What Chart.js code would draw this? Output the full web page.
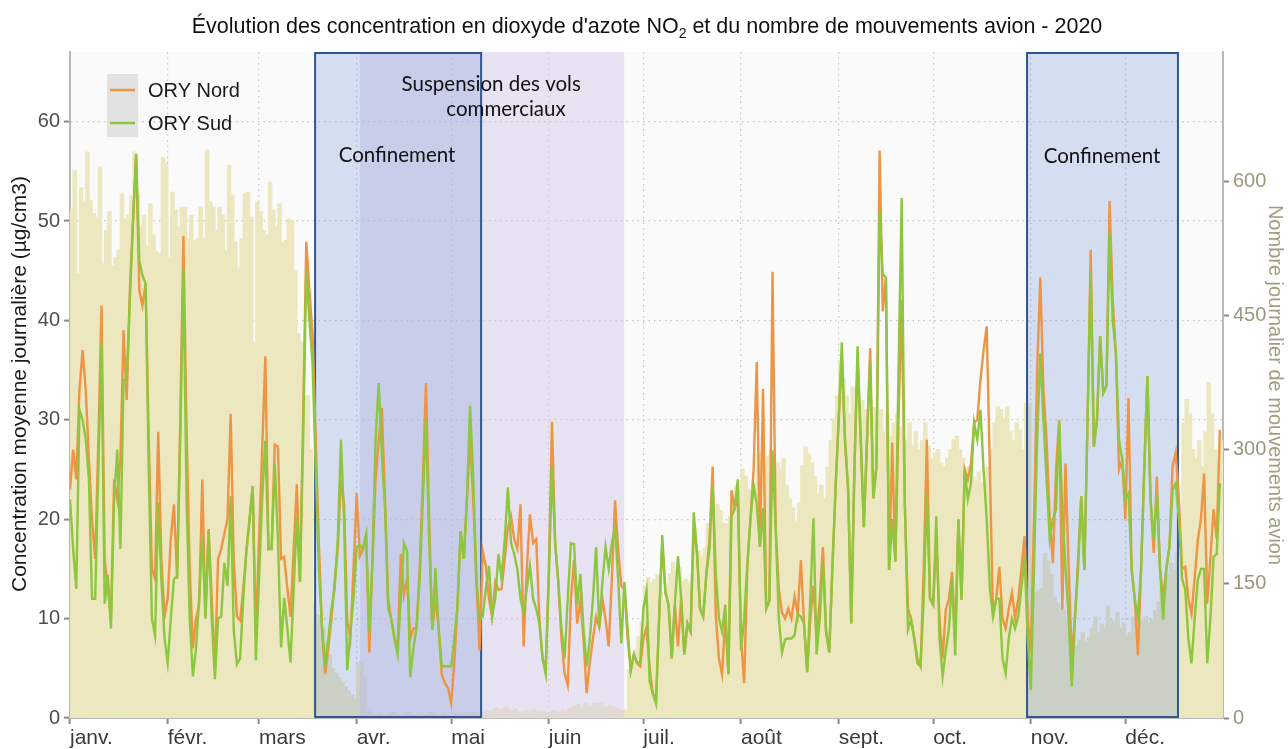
<!DOCTYPE html>
<html lang="fr">
<head>
<meta charset="UTF-8">
<title>NO2 et mouvements avion - Orly 2020</title>
<script src="https://cdn.jsdelivr.net/npm/chart.js@4"></script>
<style>
html,body{margin:0;padding:0;background:#fff;}
#wrap{width:1288px;height:749px;}
</style>
</head>
<body>
<div id="wrap"><canvas id="chart" width="1288" height="749"></canvas></div>
<script>
// axe des dates : jour de l'année 2020 (0 = 1er janvier)
const mois = ["janv.", "févr.", "mars", "avr.", "mai", "juin", "juil.", "août", "sept.", "oct.", "nov.", "déc."];
const debutMois = [0, 31, 60, 91, 121, 152, 182, 213, 244, 274, 305, 335];

// NO2 moyenne journalière (µg/cm3), station ORY Nord
const nord = [
  23, 27, 24, 33, 37, 33, 26, 20, 16, 28,
  41.5, 16, 13, 10, 24, 22, 26, 39, 32, 43,
  50, 56.7, 43, 41.5, 43.7, 28, 15, 14, 28.8, 16,
  10.2, 12, 18, 21.5, 14, 30, 48.5, 29, 15, 7,
  10, 11.4, 24, 10.2, 19, 12, 4.8, 16, 17, 18.5,
  20, 30.6, 15.6, 10.2, 9.8, 13, 16.7, 20, 23.3, 8.3,
  18, 27, 36.4, 17, 17, 27.5, 27.3, 16, 16.2, 13,
  10.2, 17, 23.5, 13.7, 30, 47.9, 43, 38.6, 28, 17.6,
  9, 4.4, 7, 10, 13.7, 17, 24, 21.5, 10, 8,
  15, 22.6, 16.3, 17, 18.4, 6.6, 15.7, 24, 28, 31.2,
  22, 12, 9.9, 8, 7.2, 16.5, 12.4, 14, 8, 9,
  9.1, 15, 24, 33.7, 20, 8.9, 12, 9.1, 4.4, 3.5,
  3, 1.5, 5.6, 11.4, 18.8, 16, 22, 28, 22, 14,
  6.8, 16.8, 15.3, 12, 10.2, 13.7, 12.9, 13, 16, 19.2,
  20.3, 18, 17, 21.5, 7.2, 15, 20.5, 17.6, 18, 9.9,
  6, 5, 15, 29.8, 17.6, 13.7, 8, 4.5, 3.3, 12,
  15.9, 9.5, 11.8, 8, 2.5, 5.6, 8, 10.2, 9.1, 12,
  9.9, 7.2, 14, 21.9, 17, 13.3, 13, 8, 4.8, 6.4,
  5.5, 5.2, 8, 9.1, 5, 2.5, 1.5, 10, 17.6, 12.6,
  11.4, 6, 11.4, 7.2, 12, 6.4, 9.5, 8.7, 19, 16.8,
  11, 10.2, 14.5, 18, 25.3, 10.2, 6, 4.4, 10, 4.4,
  22.9, 21.1, 22, 8, 3.5, 15.3, 20, 25, 35.8, 17.2,
  33.1, 11, 11.8, 44.9, 19.2, 13, 10.6, 10, 11, 10,
  12.2, 10.5, 15.9, 9.5, 4.6, 10, 13.3, 8, 12, 17.2,
  8.7, 6.6, 15, 23, 30, 36.2, 28, 23, 9.5, 25,
  36.2, 28, 19.2, 28, 37.2, 22.1, 25.3, 57.1, 40.9, 44.3,
  14.9, 27.7, 15.7, 30, 42, 21.5, 11, 9.9, 8, 6,
  5.2, 15, 28, 12, 11.4, 18, 10, 6, 10.9, 12,
  14.7, 8, 20, 11.9, 25, 24, 25.6, 29.7, 30, 34,
  37, 39.4, 25, 10.2, 12, 15.2, 10, 9, 11, 12.6,
  10, 12, 15, 18.3, 10, 6.5, 20, 35, 44.3, 33,
  28, 20, 15.6, 25, 30, 10.9, 25.6, 15.2, 6, 10,
  16, 22.3, 14.9, 30, 47.1, 27.3, 30, 38.4, 32.7, 33.4,
  52, 42, 36.7, 25, 26, 20, 32.2, 15, 11.9, 6.3,
  15, 25, 34.4, 22, 16.6, 24.3, 15, 12, 15, 17.2,
  25.3, 26.7, 22, 15, 15.2, 12, 10.5, 14, 17.9, 20,
  24.6, 11.5, 16, 21, 18, 29
];

// NO2 moyenne journalière (µg/cm3), station ORY Sud
const sud = [
  22, 17, 13, 31, 30, 28, 24, 12, 12, 25,
  37.7, 11.5, 14.4, 9, 22, 27, 17, 34, 34, 42,
  50, 56.7, 46, 44.5, 43.7, 25, 10, 8.3, 21.7, 14,
  8, 5.6, 10, 14, 14.2, 28, 45.2, 22, 10, 4.2,
  7, 12, 18.3, 10, 18.7, 10, 3.9, 10, 10.2, 15.6,
  13.3, 22.3, 8.7, 5.4, 6, 12, 17, 20, 23.3, 5.8,
  14, 22, 27.9, 17, 17.1, 25.6, 18, 7.1, 12.1, 9,
  5.6, 13, 20.2, 13.7, 28, 45.2, 40, 35.6, 25, 15,
  9, 5.2, 8, 11, 13, 18, 28, 20, 4.8, 8.7,
  12, 17.2, 17.4, 17, 18.4, 8.7, 15.7, 28, 33.7, 26.5,
  21, 11, 9.9, 8, 6.4, 12, 17.6, 16.8, 4.1, 7,
  9.1, 14, 22, 30, 18, 8.9, 15.1, 9.1, 5.2, 5.2,
  5.2, 5.2, 8, 11.4, 18.8, 16, 22, 31.4, 24, 14,
  10, 10.2, 13, 15.3, 10.2, 12, 16.5, 14, 18, 23.2,
  17.6, 16.5, 15, 12, 10.6, 13, 15.3, 12, 11, 9.5,
  6, 4.4, 14, 25.3, 17.6, 13.7, 9, 6, 12, 17.6,
  17.5, 11.4, 14.5, 9, 5.2, 7.9, 12, 17.2, 9.1, 13.7,
  17.2, 15, 17.6, 19.2, 14, 7.5, 13.7, 9, 4.8, 6.4,
  5.6, 5.6, 11, 12.8, 3.7, 2.5, 1.5, 10, 18.4, 12.6,
  11.4, 6, 11.4, 16.3, 12, 6.4, 9.5, 8.7, 20.7, 16.8,
  11, 10.2, 14.5, 17, 23.4, 14.5, 10, 8.7, 11.4, 4.4,
  20.3, 21.1, 24, 6.8, 10, 15.3, 20, 23.4, 21.5, 17.2,
  21.1, 11, 11.8, 26.9, 19.2, 10, 6.6, 7.9, 8, 8,
  8.3, 10.5, 10.2, 9.5, 4.6, 12, 20.1, 6.4, 10, 15.7,
  8.7, 6.6, 15, 23, 30, 37.8, 28, 23, 9.5, 25,
  37.4, 28, 19.2, 28, 35.8, 22.1, 25.3, 50.9, 44.7, 44.3,
  14.9, 20, 15.7, 35, 52.3, 21.5, 8.9, 9.9, 8, 5.5,
  5.2, 12, 22.6, 12, 11.4, 20.3, 8, 4.2, 6.8, 9,
  14, 6.3, 20, 11.9, 25, 22, 23.6, 29.7, 28, 31,
  25, 20, 13, 10.2, 12, 12, 6, 4.5, 8, 10,
  9, 10.2, 13, 16.2, 8, 2.8, 15, 28, 36.7, 30,
  24, 18, 20, 21, 29.8, 21, 15.2, 10, 3.2, 10,
  15, 22.3, 14.9, 30, 45, 27.3, 30, 38.4, 32.7, 33.4,
  48.8, 40, 36.7, 28, 26, 22, 22.6, 15, 11.9, 10.2,
  15, 25, 34.4, 22, 18, 22.6, 15, 9.9, 15, 17.2,
  23, 23.6, 20, 14, 12.9, 8, 5.5, 10, 13.9, 15,
  15, 5.5, 10, 16.2, 16.5, 23.6
];

// nombre journalier de mouvements avion à Orly
const mouvements = [
  568, 612, 497, 593, 577, 633, 579, 564, 560, 616,
  508, 545, 566, 506, 515, 523, 586, 558, 562, 584,
  633, 586, 549, 562, 528, 575, 540, 521, 519, 627,
  620, 515, 588, 568, 549, 571, 571, 536, 562, 534,
  536, 571, 536, 635, 577, 571, 545, 571, 562, 523,
  618, 584, 532, 502, 536, 586, 588, 560, 420, 577,
  566, 545, 540, 599, 568, 549, 575, 532, 534, 558,
  556, 500, 430, 420, 360, 360, 300, 130, 115, 110,
  100, 85, 70, 55, 50, 45, 40, 35, 30, 25,
  22, 60, 63, 45, 8, 5, 4, 3, 5, 4,
  3, 4, 6, 5, 4, 3, 5, 6, 4, 3,
  5, 4, 3, 4, 6, 5, 4, 3, 5, 4,
  3, 4, 5, 4, 3, 5, 4, 6, 5, 4,
  5, 6, 8, 7, 9, 11, 8, 10, 12, 9,
  8, 10, 7, 6, 8, 5, 7, 9, 6, 8,
  7, 5, 6, 8, 7, 6, 9, 8, 10, 12,
  13, 15, 11, 16, 14, 12, 16, 14, 17, 13,
  11, 14, 12, 10, 9, 8, 9, 54, 60, 76,
  91, 107, 146, 157, 150, 155, 160, 140, 131, 150,
  161, 174, 165, 168, 153, 155, 150, 160, 196, 187,
  180, 190, 217, 210, 225, 239, 232, 217, 217, 225,
  240, 260, 255, 278, 270, 256, 245, 262, 295, 290,
  280, 292, 300, 290, 285, 278, 290, 260, 245, 235,
  220, 240, 282, 303, 295, 285, 270, 250, 260, 245,
  280, 310, 334, 360, 398, 380, 360, 340, 370, 368,
  342, 355, 345, 320, 337, 347, 330, 345, 320, 340,
  315, 330, 340, 325, 315, 310, 330, 305, 320, 300,
  310, 330, 304, 290, 295, 300, 285, 281, 290, 300,
  311, 315, 300, 290, 280, 281, 270, 265, 275, 263,
  270, 280, 300, 330, 348, 345, 335, 348, 320, 310,
  330, 322, 300, 352, 352, 143, 140, 143, 145, 184,
  175, 160, 135, 128, 125, 120, 110, 98, 90, 80,
  87, 95, 85, 90, 100, 113, 95, 105, 100, 125,
  110, 106, 118, 100, 106, 91, 95, 113, 106, 110,
  108, 113, 106, 110, 120, 130, 143, 150, 160, 173,
  165, 184, 175, 330, 356, 340, 300, 290, 310, 281,
  320, 375, 340, 300, 290, 310
];

// périodes (jour de l'année, début / fin)
const confinements = [[77.8, 130.5], [303.8, 351.7]];
const suspension = [92.1, 175.9];

const FONT = "'Liberation Sans', Arial, sans-serif";

function setTicks(values) {
  return s => { s.ticks = values.map(v => ({ value: v })); };
}

const decor = {
  id: "decor",
  beforeDraw(chart) {
    const { ctx, chartArea: a } = chart;
    ctx.save();
    ctx.fillStyle = "#fafafa";
    ctx.fillRect(a.left, a.top, a.right - a.left, a.bottom - a.top);
    ctx.restore();
  },
  // after the bars, before the NO2 lines
  afterDatasetDraw(chart, args) {
    if (args.index !== 0) return;
    const { ctx, chartArea: a, scales: { x } } = chart;
    ctx.save();
    ctx.beginPath();
    ctx.rect(a.left, a.top, a.right - a.left, a.bottom - a.top);
    ctx.clip();
    let x0 = x.getPixelForValue(suspension[0]), x1 = x.getPixelForValue(suspension[1]);
    ctx.fillStyle = "rgba(214,204,234,0.5)";
    ctx.fillRect(x0, a.top, x1 - x0, a.bottom - a.top);
    for (const [d0, d1] of confinements) {
      x0 = x.getPixelForValue(d0); x1 = x.getPixelForValue(d1);
      ctx.fillStyle = "rgba(120,150,215,0.28)";
      ctx.fillRect(x0, a.top, x1 - x0, a.bottom - a.top);
      ctx.strokeStyle = "#2f5597";
      ctx.lineWidth = 2;
      ctx.strokeRect(x0, a.top + 1, x1 - x0, a.bottom - a.top - 2);
    }
    ctx.restore();
  },
  afterDraw(chart) {
    const { ctx, scales: { x, y } } = chart;
    ctx.save();

    // titre avec NO2 en indice
    const t1 = "Évolution des concentration en dioxyde d'azote NO", t2 = "2",
          t3 = " et du nombre de mouvements avion - 2020";
    ctx.fillStyle = "#111";
    ctx.textBaseline = "alphabetic";
    ctx.font = "21.5px " + FONT;
    const w1 = ctx.measureText(t1).width, w3 = ctx.measureText(t3).width;
    ctx.font = "14px " + FONT;
    const w2 = ctx.measureText(t2).width;
    let tx = 647 - (w1 + w2 + w3) / 2;
    ctx.font = "21.5px " + FONT;
    ctx.fillText(t1, tx, 33);
    ctx.font = "14px " + FONT;
    ctx.fillText(t2, tx + w1, 38);
    ctx.font = "21.5px " + FONT;
    ctx.fillText(t3, tx + w1 + w2, 33);

    // titres des axes
    ctx.textAlign = "center";
    ctx.textBaseline = "middle";
    ctx.save();
    ctx.translate(20, 384);
    ctx.rotate(-Math.PI / 2);
    ctx.font = "21px " + FONT;
    ctx.fillStyle = "#1a1a1a";
    ctx.fillText("Concentration moyenne journalière (µg/cm3)", 0, 0);
    ctx.restore();
    ctx.save();
    ctx.translate(1275, 385);
    ctx.rotate(Math.PI / 2);
    ctx.font = "20px " + FONT;
    ctx.fillStyle = "#a29e80";
    ctx.fillText("Nombre journalier de mouvements avion", 0, 0);
    ctx.restore();

    // légende
    ctx.fillStyle = "#e2e2e2";
    ctx.fillRect(107, 74, 31, 63);
    ctx.lineWidth = 2.5;
    ctx.strokeStyle = "#ee9445";
    ctx.beginPath(); ctx.moveTo(110, 90); ctx.lineTo(135, 90); ctx.stroke();
    ctx.strokeStyle = "#8dc63f";
    ctx.beginPath(); ctx.moveTo(110, 123); ctx.lineTo(135, 123); ctx.stroke();
    ctx.fillStyle = "#1a1a1a";
    ctx.textAlign = "left";
    ctx.font = "20px " + FONT;
    ctx.fillText("ORY Nord", 148, 91);
    ctx.fillText("ORY Sud", 148, 124);

    // annotations des périodes
    ctx.textAlign = "center";
    ctx.fillStyle = "#111";
    ctx.font = "20.5px Lato, 'Open Sans', sans-serif";
    ctx.fillText("Confinement", x.getPixelForValue(103.8), y.getPixelForValue(56.6));
    ctx.fillText("Suspension des vols", x.getPixelForValue(133.7), y.getPixelForValue(63.7));
    ctx.fillText("commerciaux", x.getPixelForValue(138.4), y.getPixelForValue(61.2));
    ctx.fillText("Confinement", x.getPixelForValue(327.6), y.getPixelForValue(56.5));
    ctx.restore();
  }
};

new Chart(document.getElementById("chart"), {
  type: "bar",
  data: {
    datasets: [
      {
        type: "bar",
        label: "Mouvements avion",
        data: mouvements.map((v, i) => ({ x: i + 0.5, y: v })),
        yAxisID: "y2",
        backgroundColor: "rgb(236,231,191)",
        borderWidth: 0,
        inflateAmount: 0.7,
        barPercentage: 1,
        categoryPercentage: 1,
        order: 3
      },
      {
        type: "line",
        label: "ORY Nord",
        data: nord.map((v, i) => ({ x: i, y: v })),
        yAxisID: "y",
        borderColor: "#ee9445",
        borderWidth: 2.4,
        pointRadius: 0,
        tension: 0,
        order: 2
      },
      {
        type: "line",
        label: "ORY Sud",
        data: sud.map((v, i) => ({ x: i, y: v })),
        yAxisID: "y",
        borderColor: "#8dc63f",
        borderWidth: 2.4,
        pointRadius: 0,
        tension: 0,
        order: 1
      }
    ]
  },
  options: {
    responsive: false,
    animation: false,
    layout: { padding: { top: 52 } },
    plugins: { legend: { display: false }, tooltip: { enabled: false } },
    scales: {
      x: {
        type: "linear",
        min: 0,
        max: 366,
        offset: false,
        afterBuildTicks: setTicks(debutMois),
        afterFit: s => { s.height = 31; },
        ticks: {
          align: "start",
          padding: 2,
          maxRotation: 0,
          autoSkip: false,
          color: "#3a3a3a",
          font: { family: FONT, size: 21 },
          callback: v => mois[debutMois.indexOf(v)]
        },
        grid: { offset: false, color: c => c.tick && c.tick.value === 0 ? "rgba(0,0,0,0)" : "#c4c4c4", lineWidth: 1.2, tickLength: 6, tickColor: "#8a8a8a", tickWidth: 2 },
        border: { color: "#b8b8b8", width: 2, dash: [1.5, 4] }
      },
      y: {
        position: "left",
        min: 0,
        max: 67,
        afterBuildTicks: setTicks([0, 10, 20, 30, 40, 50, 60]),
        afterFit: s => { s.width = 70; },
        ticks: { padding: 4, color: "#4d4d4d", font: { family: FONT, size: 20 } },
        grid: { color: c => c.tick && c.tick.value === 0 ? "rgba(0,0,0,0)" : "#c4c4c4", lineWidth: 1.2, tickLength: 6, tickColor: "#8a8a8a", tickWidth: 2 },
        border: { color: "#b8b8b8", width: 2, dash: [1.5, 4] }
      },
      y2: {
        position: "right",
        min: 0,
        max: 745,
        afterBuildTicks: setTicks([0, 150, 300, 450, 600]),
        afterFit: s => { s.width = 65; },
        ticks: { padding: 4, color: "#9a987c", font: { family: FONT, size: 20 } },
        grid: { drawOnChartArea: false, tickLength: 6, tickColor: "#8a8a8a", tickWidth: 2 },
        border: { color: "#b8b8b8", width: 2 }
      }
    }
  },
  plugins: [decor]
});
</script>
</body>
</html>
